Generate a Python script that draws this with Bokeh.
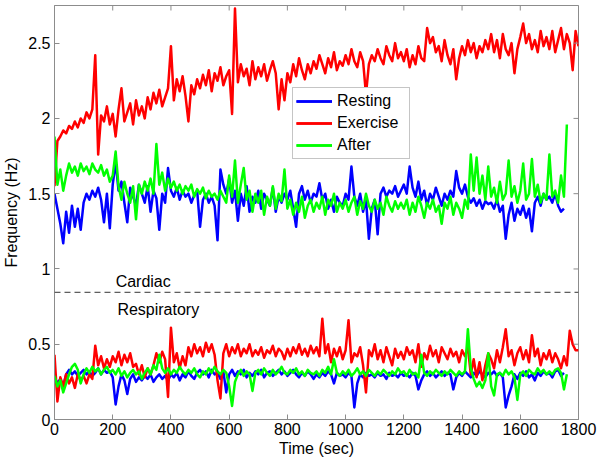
from bokeh.plotting import figure
from bokeh.models import Span, Legend, LegendItem, FixedTicker, ColumnDataSource
from bokeh.core.properties import value
from bokeh.embed import file_html
from bokeh.resources import INLINE

sample_step = 10  # seconds between samples

resting_cardiac = [
    1.50, 1.40, 1.30, 1.17, 1.38, 1.24, 1.42, 1.28, 1.40, 1.26,
    1.44, 1.50, 1.46, 1.52, 1.48, 1.54, 1.46, 1.31, 1.50, 1.27,
    1.56, 1.71, 1.52, 1.58, 1.44, 1.31, 1.54, 1.48, 1.42, 1.56,
    1.50, 1.44, 1.55, 1.38, 1.52, 1.47, 1.26, 1.50, 1.44, 1.67,
    1.52, 1.48, 1.54, 1.46, 1.52, 1.48, 1.50, 1.44, 1.49, 1.52,
    1.28, 1.46, 1.50, 1.44, 1.48, 1.42, 1.19, 1.66, 1.56, 1.50,
    1.60, 1.44, 1.52, 1.32, 1.50, 1.42, 1.55, 1.38, 1.48, 1.44,
    1.52, 1.40, 1.50, 1.46, 1.42, 1.54, 1.38, 1.48, 1.44, 1.50,
    1.46, 1.52, 1.40, 1.28, 1.50, 1.55, 1.46, 1.52, 1.44, 1.50,
    1.48, 1.57, 1.46, 1.50, 1.40, 1.46, 1.38, 1.48, 1.44, 1.42,
    1.50, 1.46, 1.68, 1.48, 1.42, 1.50, 1.38, 1.46, 1.20, 1.40,
    1.46, 1.23, 1.50, 1.54, 1.48, 1.52, 1.50, 1.55, 1.48, 1.52,
    1.56, 1.50, 1.68, 1.54, 1.48, 1.58, 1.46, 1.52, 1.42, 1.50,
    1.46, 1.54, 1.48, 1.42, 1.50, 1.46, 1.52, 1.48, 1.65, 1.54,
    1.50, 1.56, 1.48, 1.44, 1.47, 1.42, 1.46, 1.40, 1.45, 1.43,
    1.44, 1.40, 1.46, 1.38, 1.42, 1.20, 1.36, 1.44, 1.32, 1.40,
    1.36, 1.42, 1.34, 1.40, 1.25, 1.44, 1.48, 1.42, 1.50, 1.46,
    1.48, 1.44, 1.50, 1.42, 1.38, 1.40,
]

exercise_cardiac = [
    1.55, 1.85, 1.88, 1.92, 1.90, 1.95, 1.93, 1.98, 1.94, 2.00,
    1.97, 2.04, 2.00, 2.06, 2.42, 1.76, 2.02, 1.98, 2.08, 1.96,
    2.03, 1.88, 2.06, 2.20, 1.98, 2.04, 2.10, 1.96, 2.12, 2.02,
    2.08, 2.00, 2.14, 2.06, 2.17, 2.10, 2.19, 2.08, 2.14, 2.20,
    2.48, 2.12, 2.26, 2.18, 2.28, 2.15, 1.98, 2.22, 2.16, 2.26,
    2.20, 2.29, 2.22, 2.32, 2.18, 2.30, 2.25, 2.34, 2.22, 2.28,
    2.32, 2.03, 2.73, 2.24, 2.36, 2.28, 2.33, 2.22, 2.38, 2.26,
    2.34, 2.28, 2.36, 2.25, 2.32, 2.38, 2.30, 2.06, 2.26, 2.12,
    2.30, 2.24, 2.36, 2.28, 2.40, 2.32, 2.26, 2.36, 2.30, 2.38,
    2.33, 2.42, 2.36, 2.30, 2.40, 2.34, 2.44, 2.32, 2.38, 2.35,
    2.42, 2.36, 2.46, 2.38, 2.34, 2.44, 2.38, 2.16, 2.36, 2.42,
    2.38, 2.46, 2.40, 2.36, 2.48, 2.42, 2.38, 2.50, 2.40, 2.44,
    2.38, 2.46, 2.34, 2.42, 2.36, 2.48, 2.40, 2.38, 2.60, 2.50,
    2.54, 2.44, 2.48, 2.38, 2.52, 2.42, 2.36, 2.46, 2.26, 2.40,
    2.48, 2.42, 2.52, 2.44, 2.50, 2.40, 2.48, 2.44, 2.52, 2.46,
    2.56, 2.44, 2.52, 2.40, 2.56, 2.46, 2.42, 2.50, 2.30, 2.46,
    2.54, 2.63, 2.50, 2.56, 2.46, 2.52, 2.44, 2.58, 2.48, 2.54,
    2.46, 2.58, 2.44, 2.52, 2.60, 2.46, 2.56, 2.50, 2.32, 2.58,
    2.48,
]

after_cardiac = [
    1.88, 1.56, 1.66, 1.52, 1.62, 1.70, 1.64, 1.68, 1.62, 1.70,
    1.65, 1.68, 1.63, 1.70, 1.66, 1.64, 1.69, 1.62, 1.66, 1.58,
    1.62, 1.78, 1.55, 1.46, 1.58, 1.50, 1.44, 1.55, 1.33, 1.56,
    1.50, 1.58, 1.52, 1.60, 1.50, 1.83, 1.56, 1.64, 1.52, 1.60,
    1.54, 1.58, 1.52, 1.56, 1.50, 1.55, 1.52, 1.56, 1.48, 1.53,
    1.50, 1.54, 1.47, 1.52, 1.48, 1.50, 1.46, 1.52, 1.48, 1.44,
    1.62, 1.48, 1.72, 1.44, 1.56, 1.67, 1.46, 1.52, 1.38, 1.50,
    1.44, 1.52, 1.36, 1.48, 1.42, 1.55, 1.40, 1.50, 1.45, 1.66,
    1.40, 1.46, 1.36, 1.44, 1.38, 1.48, 1.34, 1.42, 1.46, 1.38,
    1.44, 1.40, 1.48, 1.36, 1.46, 1.42, 1.50, 1.38, 1.44, 1.40,
    1.46, 1.38, 1.44, 1.48, 1.36, 1.45, 1.40, 1.50, 1.42, 1.38,
    1.46, 1.40, 1.44, 1.36, 1.48, 1.42, 1.38, 1.45, 1.40, 1.44,
    1.40, 1.46, 1.36, 1.44, 1.38, 1.48, 1.42, 1.34, 1.44, 1.40,
    1.46, 1.38, 1.42, 1.30, 1.44, 1.40, 1.48, 1.36, 1.44, 1.40,
    1.34, 1.46, 1.40, 1.76, 1.52, 1.74, 1.50, 1.62, 1.46, 1.68,
    1.48, 1.54, 1.44, 1.58, 1.46, 1.50, 1.72, 1.48, 1.55, 1.44,
    1.52, 1.70, 1.46, 1.50, 1.73, 1.48, 1.56, 1.44, 1.50, 1.46,
    1.76, 1.48, 1.52, 1.44, 1.62, 1.48, 1.96,
]

resting_resp = [
    0.28, 0.24, 0.27, 0.22, 0.30, 0.33, 0.30, 0.32, 0.29, 0.31,
    0.33, 0.30, 0.32, 0.29, 0.31, 0.34, 0.30, 0.33, 0.31, 0.32,
    0.28, 0.10, 0.22, 0.30, 0.26, 0.17, 0.27, 0.30, 0.25, 0.28,
    0.26, 0.29, 0.27, 0.30, 0.25, 0.28, 0.30, 0.27, 0.29, 0.26,
    0.30, 0.28, 0.31, 0.26, 0.30, 0.28, 0.32, 0.29, 0.27, 0.31,
    0.33, 0.30, 0.32, 0.28, 0.33, 0.30, 0.31, 0.27, 0.32, 0.18,
    0.30, 0.33, 0.29, 0.32, 0.30, 0.33, 0.28, 0.31, 0.29, 0.32,
    0.30, 0.33, 0.28, 0.31, 0.32, 0.29, 0.31, 0.33, 0.30, 0.32,
    0.29, 0.31, 0.33, 0.30, 0.28, 0.31, 0.29, 0.32, 0.30, 0.27,
    0.30, 0.28, 0.31, 0.29, 0.32, 0.30, 0.24, 0.31, 0.29, 0.30,
    0.28, 0.31, 0.29, 0.08, 0.24, 0.30, 0.28, 0.31, 0.29, 0.30,
    0.28, 0.31, 0.29, 0.30, 0.27, 0.31, 0.29, 0.30, 0.28, 0.31,
    0.29, 0.30, 0.28, 0.31, 0.29, 0.20, 0.26, 0.30, 0.32, 0.29,
    0.31, 0.28, 0.30, 0.32, 0.29, 0.31, 0.30, 0.20, 0.28, 0.31,
    0.29, 0.32, 0.30, 0.28, 0.31, 0.29, 0.32, 0.30, 0.28, 0.31,
    0.30, 0.32, 0.29, 0.31, 0.28, 0.08, 0.16, 0.22, 0.30, 0.27,
    0.31, 0.29, 0.32, 0.28, 0.30, 0.26, 0.31, 0.29, 0.32, 0.30,
    0.31, 0.28, 0.32, 0.33, 0.29, 0.31,
]

exercise_resp = [
    0.43, 0.12, 0.28, 0.22, 0.30, 0.24, 0.28, 0.21, 0.30, 0.26,
    0.29, 0.24, 0.30, 0.27, 0.49, 0.36, 0.42, 0.34, 0.40, 0.35,
    0.42, 0.38, 0.45, 0.36, 0.43, 0.38, 0.44, 0.35, 0.37, 0.30,
    0.36, 0.28, 0.34, 0.30, 0.36, 0.44, 0.38, 0.45, 0.40, 0.15,
    0.61, 0.38, 0.44, 0.34, 0.42, 0.36, 0.48, 0.42, 0.50, 0.44,
    0.48, 0.42, 0.51, 0.45, 0.50, 0.43, 0.26, 0.14, 0.44, 0.50,
    0.42, 0.48, 0.44, 0.50, 0.42, 0.47, 0.44, 0.50, 0.42, 0.46,
    0.43, 0.48, 0.41, 0.46, 0.44, 0.49, 0.42, 0.47, 0.45, 0.40,
    0.47, 0.42, 0.48, 0.44, 0.50, 0.43, 0.47, 0.42, 0.49, 0.44,
    0.48, 0.42, 0.67, 0.44, 0.50, 0.38, 0.47, 0.42, 0.48, 0.40,
    0.46, 0.66, 0.38, 0.44, 0.42, 0.48, 0.36, 0.18, 0.46, 0.42,
    0.50, 0.40, 0.46, 0.38, 0.48, 0.42, 0.36, 0.47, 0.41, 0.45,
    0.40, 0.48, 0.43, 0.46, 0.38, 0.50, 0.35, 0.44, 0.40, 0.49,
    0.42, 0.46, 0.38, 0.48, 0.44, 0.40, 0.47, 0.42, 0.45, 0.38,
    0.46, 0.42, 0.48, 0.30, 0.40, 0.28, 0.38, 0.26, 0.36, 0.44,
    0.40, 0.34, 0.46, 0.38, 0.48, 0.60, 0.42, 0.46, 0.36, 0.44,
    0.48, 0.40, 0.46, 0.38, 0.56, 0.42, 0.47, 0.36, 0.44, 0.40,
    0.46, 0.38, 0.44, 0.40, 0.34, 0.42, 0.36, 0.59, 0.50, 0.46,
    0.46,
]

after_resp = [
    0.29, 0.22, 0.26, 0.18, 0.24, 0.30, 0.35, 0.37, 0.33, 0.24,
    0.30, 0.34, 0.31, 0.35, 0.32, 0.34, 0.30, 0.33, 0.35, 0.31,
    0.33, 0.30, 0.34, 0.29, 0.32, 0.28, 0.31, 0.33, 0.30, 0.32,
    0.27, 0.31, 0.34, 0.30, 0.36, 0.33, 0.43, 0.34, 0.31, 0.34,
    0.30, 0.33, 0.31, 0.35, 0.32, 0.30, 0.33, 0.31, 0.34, 0.30,
    0.28, 0.32, 0.30, 0.34, 0.31, 0.35, 0.32, 0.30, 0.33, 0.31,
    0.22, 0.09, 0.25, 0.30, 0.33, 0.29, 0.32, 0.30, 0.19, 0.31,
    0.33, 0.30, 0.34, 0.31, 0.29, 0.33, 0.30, 0.32, 0.35, 0.31,
    0.30, 0.33, 0.31, 0.34, 0.30, 0.32, 0.29, 0.33, 0.31, 0.30,
    0.32, 0.29, 0.33, 0.31, 0.35, 0.30, 0.40, 0.31, 0.29, 0.32,
    0.30, 0.33, 0.29, 0.31, 0.34, 0.30, 0.32, 0.29, 0.33, 0.31,
    0.29, 0.32, 0.30, 0.33, 0.31, 0.29, 0.32, 0.30, 0.34, 0.31,
    0.32, 0.29, 0.33, 0.30, 0.31, 0.28, 0.43, 0.31, 0.29, 0.32,
    0.30, 0.33, 0.31, 0.29, 0.32, 0.30, 0.33, 0.31, 0.29, 0.32,
    0.30, 0.32, 0.60, 0.34, 0.27, 0.22, 0.25, 0.21, 0.26, 0.44,
    0.22, 0.16, 0.30, 0.31, 0.29, 0.33, 0.30, 0.32, 0.28, 0.13,
    0.30, 0.32, 0.29, 0.33, 0.31, 0.30, 0.34, 0.31, 0.33, 0.30,
    0.32, 0.30, 0.33, 0.34, 0.31, 0.20, 0.30,
]

series_names = ["Resting", "Exercise", "After"]
series_colors = ["#0000ff", "#ff0000", "#00ff00"]

x_range_end = 1800
y_range_end = 2.75
x_ticks = [0, 200, 400, 600, 800, 1000, 1200, 1400, 1600, 1800]
y_ticks = [0, 0.5, 1, 1.5, 2, 2.5]
y_tick_labels = ["0", "0.5", "1", "1.5", "2", "2.5"]
x_title = "Time (sec)"
y_title = "Frequency (Hz)"

band_boundary = 0.845
band_labels = ["Cardiac", "Respiratory"]
band_label_x = [210, 216]
band_label_y = [0.917, 0.731]

FONT = "Liberation Sans"
FONT_SIZE = "16px"
AXIS_GRAY = "#8c8c8c"


def times(vals):
    return [sample_step * i for i in range(len(vals))]


p = figure(width=602, height=464, x_range=(0, x_range_end), y_range=(0, y_range_end),
           output_backend="svg", toolbar_location=None,
           min_border_left=54, min_border_right=24, min_border_top=5,
           min_border_bottom=45)
p.background_fill_color = "white"
p.border_fill_color = "white"
p.outline_line_color = AXIS_GRAY
p.xgrid.visible = False
p.ygrid.visible = False

for ax in (p.xaxis[0], p.yaxis[0]):
    ax.axis_line_color = AXIS_GRAY
    ax.major_tick_line_color = AXIS_GRAY
    ax.major_tick_in = 5
    ax.major_tick_out = 0
    ax.minor_tick_line_color = None
    ax.major_label_text_font = FONT
    ax.major_label_text_font_size = FONT_SIZE
    ax.major_label_text_color = "black"
    ax.axis_label_text_font = FONT
    ax.axis_label_text_font_size = FONT_SIZE
    ax.axis_label_text_font_style = "normal"
    ax.axis_label_text_color = "black"

p.xaxis[0].ticker = FixedTicker(ticks=x_ticks)
p.yaxis[0].ticker = FixedTicker(ticks=y_ticks)
p.yaxis[0].major_label_overrides = {t: l for t, l in zip(y_ticks, y_tick_labels)}
p.xaxis[0].axis_label = x_title
p.yaxis[0].axis_label = y_title
p.xaxis[0].major_label_standoff = 3
p.xaxis[0].axis_label_standoff = 2
p.yaxis[0].major_label_standoff = 4
p.yaxis[0].axis_label_standoff = 5

# lines
cardiac = [resting_cardiac, exercise_cardiac, after_cardiac]
resp = [resting_resp, exercise_resp, after_resp]
items = []
for name, color, c_vals, r_vals in zip(series_names, series_colors, cardiac, resp):
    src_c = ColumnDataSource(dict(t=times(c_vals), f=c_vals))
    src_r = ColumnDataSource(dict(t=times(r_vals), f=r_vals))
    rc = p.line("t", "f", source=src_c, line_color=color, line_width=2.5, line_join="round")
    rr = p.line("t", "f", source=src_r, line_color=color, line_width=2.5, line_join="round")
    items.append(LegendItem(label=name, renderers=[rc, rr]))

# inward box ticks on the top and right edges
p.scatter(x=x_ticks, y=[y_range_end] * len(x_ticks), marker="dash", size=10,
          angle=90, angle_units="deg", line_color=AXIS_GRAY, line_width=1)
p.scatter(x=[x_range_end] * len(y_ticks), y=y_ticks, marker="dash", size=10,
          line_color=AXIS_GRAY, line_width=1)

# band boundary
p.add_layout(Span(location=band_boundary, dimension="width", line_color="#333333",
                  line_width=1, line_dash="6 4"))
p.text(x=band_label_x, y=band_label_y, text=band_labels, text_font=value(FONT),
       text_font_size=FONT_SIZE, text_color="black", text_baseline="middle",
       text_align="left")

legend = Legend(items=items, location=(238, 260))
legend.label_text_font = FONT
legend.label_text_font_size = FONT_SIZE
legend.label_text_color = "black"
legend.glyph_width = 36
legend.glyph_height = 20
legend.label_height = 20
legend.label_width = 69
legend.label_standoff = 5
legend.padding = 3
legend.spacing = 2
legend.margin = 0
legend.border_line_color = AXIS_GRAY
legend.border_line_width = 1
legend.background_fill_color = "white"
legend.background_fill_alpha = 1
p.add_layout(legend)

open("out.html", "w").write(file_html(p, INLINE))
